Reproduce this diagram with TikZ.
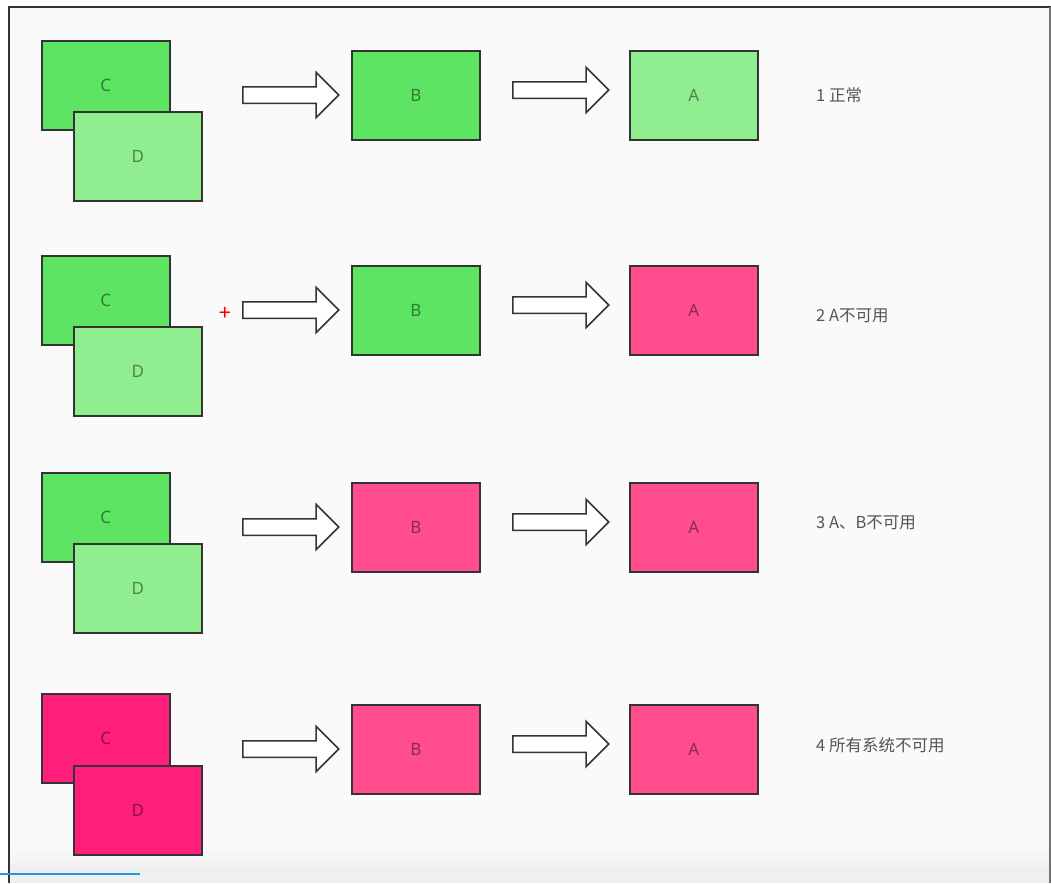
\documentclass[tikz,border=0pt]{standalone}
\usepackage{fontspec}
\setmainfont{Noto Sans}
\newfontfamily\cjk{Noto Sans CJK SC}
\usetikzlibrary{shapes.arrows}
\definecolor{bg}{HTML}{FAFAFA}
\definecolor{okdark}{HTML}{5CE462}
\definecolor{oklight}{HTML}{90EE90}
\definecolor{badpink}{HTML}{FF4D8E}
\definecolor{baddeep}{HTML}{FF1F7A}
\definecolor{edge}{HTML}{333333}
\definecolor{labelgray}{HTML}{555555}
\definecolor{progress}{HTML}{1E9BE0}
\tikzset{
  sysbox/.style={draw=edge, line width=1.6pt, anchor=north west, inner sep=0pt,
    minimum width=128pt, minimum height=89pt, font=\fontsize{17}{17}\selectfont,
    text=black, text opacity=0.45},
  blockarrow/.style={single arrow, draw=edge, fill=white, line width=1.5pt,
    single arrow head extend=14.5pt, single arrow tip angle=90,
    inner ysep=7.5pt, inner xsep=0pt, minimum height=96pt, anchor=tail},
  statelabel/.style={anchor=west, inner sep=0pt, text=labelgray,
    font=\cjk\fontsize{16.5}{17}\selectfont}
}
\begin{document}
\begin{tikzpicture}[x=1pt,y=-1pt]
\useasboundingbox (0,0) rectangle (1051,883);
\fill[white] (0,0) rectangle (1051,883);
\fill[bg] (9,7) rectangle (1050,883);
\shade[top color=bg, bottom color=black!7] (10,845) rectangle (1049,875);
\fill[black!6] (10,875) rectangle (1049,883);
\draw[edge, line width=1.5pt] (9,883) -- (9,7) -- (1051,7);
\draw[black!55, line width=1.2pt] (1050,7) -- (1050,883);
\draw[progress, line width=2pt] (0,874) -- (140,874);

% Row 1
\node[sysbox, fill=okdark] (c1) at (41,40) {C};
\node[sysbox, fill=oklight] (d1) at (73,111) {D};
\node[blockarrow] (p1) at (242,95) {};
\node[sysbox, fill=okdark] (b1) at (351,50) {B};
\node[blockarrow] (q1) at (512,90) {};
\node[sysbox, fill=oklight] (a1) at (629,50) {A};
\node[statelabel] (l1) at (816,95) {1 正常};

% Row 2
\node[sysbox, fill=okdark] (c2) at (41,255) {C};
\node[sysbox, fill=oklight] (d2) at (73,326) {D};
\node[blockarrow] (p2) at (242,310) {};
\node[sysbox, fill=okdark] (b2) at (351,265) {B};
\node[blockarrow] (q2) at (512,305) {};
\node[sysbox, fill=badpink] (a2) at (629,265) {A};
\node[statelabel] (l2) at (816,316) {2 A不可用};
\node[text=red, font=\bfseries\fontsize{22}{22}\selectfont, inner sep=0pt] (plus) at (225,314) {+};

% Row 3
\node[sysbox, fill=okdark] (c3) at (41,472) {C};
\node[sysbox, fill=oklight] (d3) at (73,543) {D};
\node[blockarrow] (p3) at (242,527) {};
\node[sysbox, fill=badpink] (b3) at (351,482) {B};
\node[blockarrow] (q3) at (512,522) {};
\node[sysbox, fill=badpink] (a3) at (629,482) {A};
\node[statelabel] (l3) at (816,523) {3 A、B不可用};

% Row 4
\node[sysbox, fill=baddeep] (c4) at (41,693) {C};
\node[sysbox, fill=baddeep] (d4) at (73,765) {D};
\node[blockarrow] (p4) at (242,749) {};
\node[sysbox, fill=badpink] (b4) at (351,704) {B};
\node[blockarrow] (q4) at (512,744) {};
\node[sysbox, fill=badpink] (a4) at (629,704) {A};
\node[statelabel] (l4) at (816,745) {4 所有系统不可用};
\end{tikzpicture}
\end{document}
